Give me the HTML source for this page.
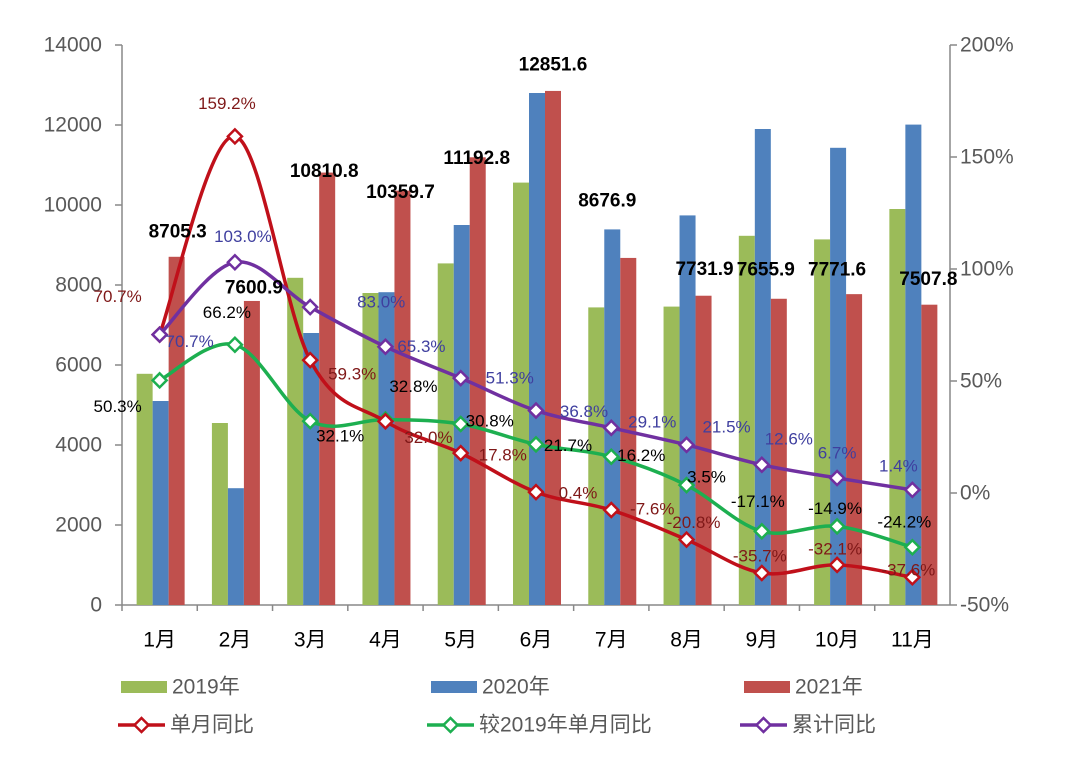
<!DOCTYPE html>
<html><head><meta charset="utf-8"><style>
body{margin:0;background:#fff;width:1080px;height:760px;overflow:hidden}
svg{font-family:"Liberation Sans","Noto Sans CJK SC",sans-serif}
</style></head><body>
<svg id="chart" width="1080" height="760"></svg>
<script>
const categories=["1月","2月","3月","4月","5月","6月","7月","8月","9月","10月","11月"];
const sales2019=[5780,4550,8180,7800,8540,10560,7440,7460,9230,9140,9900];
const sales2020=[5100,2920,6800,7820,9500,12800,9390,9740,11900,11430,12010];
const sales2021=[8705.3,7600.9,10810.8,10359.7,11192.8,12851.6,8676.9,7731.9,7655.9,7771.6,7507.8];
const monthYoY=[70.7,159.2,59.3,32.0,17.8,0.4,-7.6,-20.8,-35.7,-32.1,-37.6];
const vs2019=[50.3,66.2,32.1,32.8,30.8,21.7,16.2,3.5,-17.1,-14.9,-24.2];
const cumYoY=[70.7,103.0,83.0,65.3,51.3,36.8,29.1,21.5,12.6,6.7,1.4];
const leftTicks=[0,2000,4000,6000,8000,10000,12000,14000];
const rightTicks=[-50,0,50,100,150,200];

const svg=document.getElementById('chart');
const NS='http://www.w3.org/2000/svg';
const L=122,R=950,T=45,B=605;
const step=(R-L)/categories.length;
const xc=i=>L+step*(i+0.5);
const yL=v=>B-(B-T)*v/14000;
const yR=v=>B-(B-T)*(v+50)/250;
function mk(tag,attrs,parent){const e=document.createElementNS(NS,tag);for(const k in attrs)e.setAttribute(k,attrs[k]);(parent||svg).appendChild(e);return e;}
function txt(x,y,s,attrs){const e=mk('text',Object.assign({x:x,y:y,'dominant-baseline':'central'},attrs));e.textContent=s;return e;}

const ax=mk('g',{});


mk('line',{x1:L,y1:T,x2:L,y2:B,stroke:'#888','stroke-width':1.5},ax);
mk('line',{x1:R,y1:T,x2:R,y2:B,stroke:'#888','stroke-width':1.5},ax);
mk('line',{x1:L,y1:B,x2:R,y2:B,stroke:'#888','stroke-width':1.5},ax);
leftTicks.forEach(v=>{
  mk('line',{x1:L-7,y1:yL(v),x2:L,y2:yL(v),stroke:'#888','stroke-width':1.5},ax);
  const t=txt(102,yL(v),String(v),{'text-anchor':'end','font-size':21,fill:'#595959'});
  
  
});
rightTicks.forEach(v=>{
  mk('line',{x1:R,y1:yR(v),x2:R+7,y2:yR(v),stroke:'#888','stroke-width':1.5},ax);
  const t=txt(960,yR(v),v+'%',{'text-anchor':'start','font-size':21,fill:'#595959'});
  
  
});
categories.forEach((c,i)=>{
  mk('line',{x1:L+step*i,y1:B,x2:L+step*i,y2:B+6,stroke:'#888','stroke-width':1.5},ax);
  const t=txt(xc(i),640,c,{'text-anchor':'middle','font-size':21,fill:'#000'});
  
  
});

const bw=16;
[[sales2019,'#9BBB59',-23,'bar-2019'],[sales2020,'#4F81BD',-7,'bar-2020'],[sales2021,'#C0504D',9,'bar-2021']].forEach(([arr,col,off,nm])=>{
  arr.forEach((v,i)=>{
    const r=mk('rect',{x:xc(i)+off,y:yL(v),width:bw,height:B-yL(v),fill:col});
    
    
  });
});

function smooth(pts){
  let d='M'+pts[0][0]+','+pts[0][1];
  for(let i=0;i<pts.length-1;i++){
    const p0=pts[i-1]||pts[i],p1=pts[i],p2=pts[i+1],p3=pts[i+2]||p2;
    const t=0.17;
    const c1=[p1[0]+(p2[0]-p0[0])*t,p1[1]+(p2[1]-p0[1])*t];
    const c2=[p2[0]-(p3[0]-p1[0])*t,p2[1]-(p3[1]-p1[1])*t];
    d+=' C'+c1+' '+c2+' '+p2;
  }
  return d;
}
function series(arr,col,nm){
  const pts=arr.map((v,i)=>[xc(i),yR(v)]);
  const p=mk('path',{d:smooth(pts),fill:'none',stroke:col,'stroke-width':3.5});
  
  
  pts.forEach(q=>{
    const m=mk('path',{d:`M${q[0]},${q[1]-7} L${q[0]+7},${q[1]} L${q[0]},${q[1]+7} L${q[0]-7},${q[1]} Z`,fill:'#fff',stroke:col,'stroke-width':2.5});
    
    
  });
}
series(vs2019,'#1DAF50','vs2019');
series(monthYoY,'#C0101A','month-yoy');
series(cumYoY,'#7030A0','cum-yoy');

const redOff=[[-42,-38],[-8,-33],[42,14],[43,16],[42,2],[42,1],[41,-1],[7,-17],[-2,-17],[-2,-16],[-4,-7]];
const greenOff=[[-42,26],[-8,-32],[30,15],[28,-33],[29,-3],[32,1],[30,-1],[20,-8],[-4,-30],[-2,-18],[-8,-25]];
const purpleOff=[[30,7],[8,-26],[71,-5],[36,0],[49,0],[48,1],[41,-6],[40,-18],[27,-26],[0,-25],[-14,-24]];
const barOff=[[2,-25],[3,-13],[-2,-1],[-1,2],[0,1],[1,-26],[-20,-57],[2,-26],[-12,-29],[-16,-24],[0,-25]];
function labels(arr,off,col,nm){
  arr.forEach((v,i)=>{
    const t=txt(xc(i)+off[i][0],yR(v)+off[i][1],v.toFixed(1)+'%',{'text-anchor':'middle','font-size':17,fill:col});
    
    
  });
}
labels(monthYoY,redOff,'#7F1818','month-yoy');
labels(vs2019,greenOff,'#000','vs2019');
labels(cumYoY,purpleOff,'#3F3F9F','cum-yoy');
sales2021.forEach((v,i)=>{
  const t=txt(xc(i)+16+barOff[i][0],yL(v)+barOff[i][1],v.toFixed(1),{'text-anchor':'middle','font-size':19,'font-weight':'bold',fill:'#000'});
  
  
});

const leg=mk('g',{});


[[121,'#9BBB59','2019年'],[431,'#4F81BD','2020年'],[744,'#C0504D','2021年']].forEach(([x,c,s])=>{
  const r=mk('rect',{x:x,y:681,width:46,height:12,fill:c},leg);
  
  
  const t=txt(x+51,687,s,{'font-size':21,fill:'#595959'});
  leg.appendChild(t);
  
  
});
[[118,'#C0101A','单月同比'],[427,'#1DAF50','较2019年单月同比'],[740,'#7030A0','累计同比']].forEach(([x,c,s])=>{
  mk('line',{x1:x,y1:725,x2:x+47,y2:725,stroke:c,'stroke-width':3.5},leg);
  const cx=x+23.5;
  mk('path',{d:`M${cx},718 L${cx+7},725 L${cx},732 L${cx-7},725 Z`,fill:'#fff',stroke:c,'stroke-width':2.5},leg);
  const t=txt(x+52,725,s,{'font-size':21,fill:'#595959'});
  leg.appendChild(t);
  
  
});
</script>
</body></html>
